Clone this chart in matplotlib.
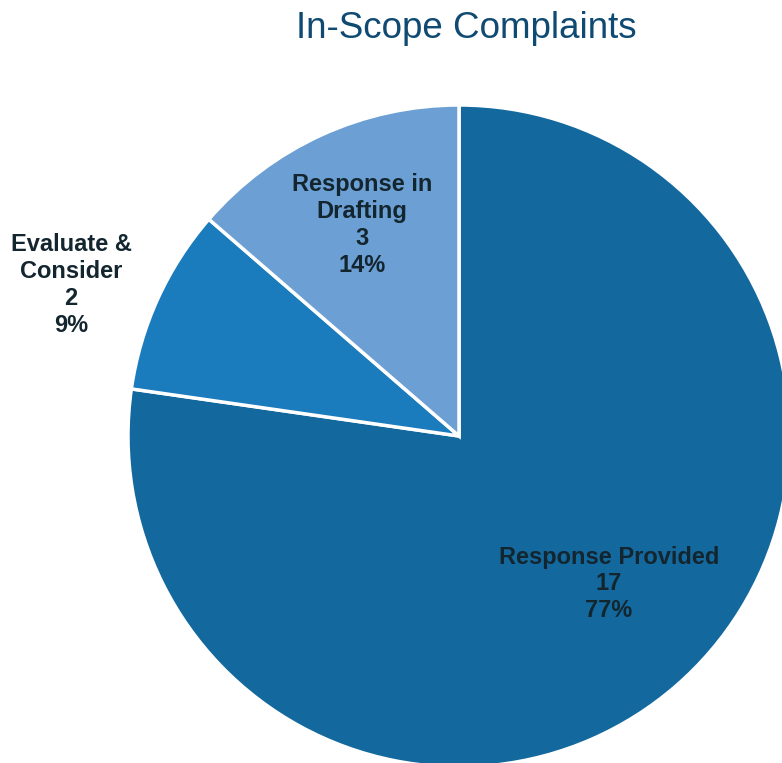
import matplotlib
matplotlib.use("Agg")
import matplotlib.pyplot as plt

labels = ["Response Provided", "Evaluate &\nConsider", "Response in\nDrafting"]
counts = [17, 2, 3]
colors = ["#13699E", "#1A7CBD", "#6C9FD3"]

W, H = 782, 763
fig = plt.figure(figsize=(W / 100, H / 100), dpi=100)
ax = fig.add_axes([0, 0, 1, 1])

cx, cy, r = 459, H - 436, 331
ax.pie(counts, colors=colors, startangle=90, counterclock=False,
       center=(cx, cy), radius=r,
       wedgeprops=dict(edgecolor="white", linewidth=2.5))
ax.set_xlim(0, W)
ax.set_ylim(0, H)
ax.set_aspect("equal")
ax.axis("off")

total = sum(counts)
label_pos = [(609, 584), (71, 285), (362, 225)]
for lab, n, (px, py) in zip(labels, counts, label_pos):
    pct = round(100 * n / total)
    ax.text(px, H - py, f"{lab}\n{n}\n{pct}%", ha="center", va="center",
            fontsize=17, fontweight="bold", color="#13262F",
            family="Liberation Sans", linespacing=1.22)

fig.text(466 / W, 1 - 29 / H, "In-Scope Complaints", ha="center", va="center",
         fontsize=26.5, color="#0F4A73", family="Liberation Sans")

fig.savefig("out.png", dpi=100)
